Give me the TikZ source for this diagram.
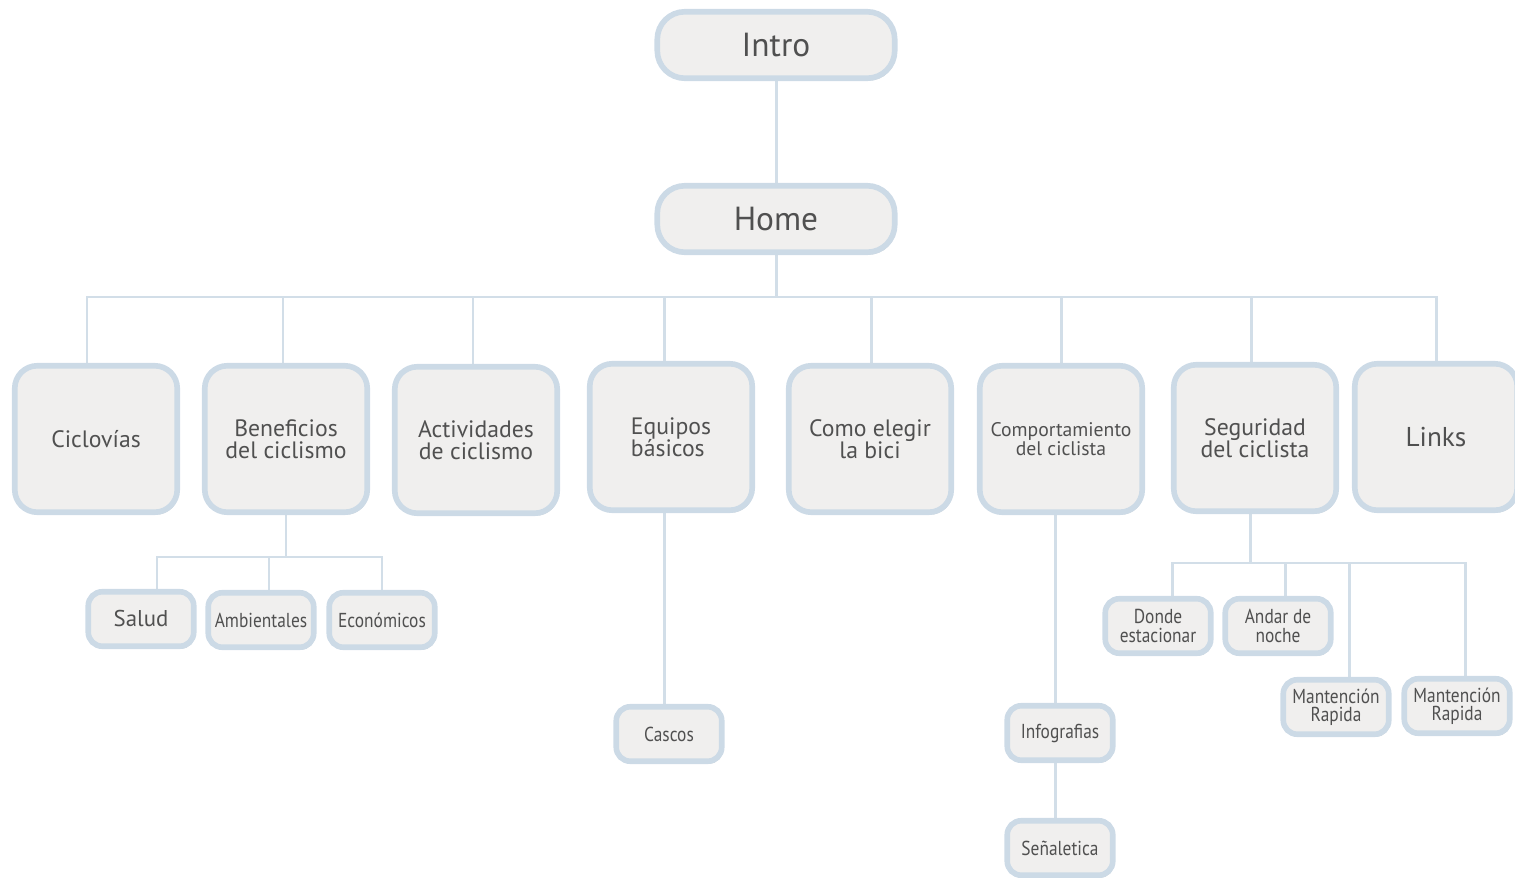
\documentclass[tikz,border=0pt]{standalone}
\usepackage{fontspec}
\setmainfont{PT Sans}
\newfontfamily\narrowfont[FakeStretch=0.86]{PT Sans}
\usetikzlibrary{shadows,backgrounds}
\definecolor{boxfill}{HTML}{F0EFEE}
\definecolor{boxline}{HTML}{CCDAE6}
\definecolor{linkcol}{HTML}{D2DEE8}
\definecolor{txtcol}{HTML}{505050}
\tikzset{
  box/.style={draw=boxline, line width=3.2pt, fill=boxfill, text=txtcol, align=center, inner sep=1pt,
    drop shadow={opacity=0.5, fill=boxline!75!black, shadow xshift=0.8pt, shadow yshift=-1.4pt}},
  topbox/.style={box, minimum width=4.75cm, minimum height=1.33cm, rounded corners=0.55cm,
    font=\fontsize{19}{20}\selectfont},
  secbox/.style={box, minimum width=3.25cm, minimum height=2.93cm, rounded corners=0.45cm,
    font=\fontsize{13.5}{12.5}\selectfont},
  leafbox/.style={box, minimum width=2.11cm, minimum height=1.09cm, rounded corners=0.28cm,
    font=\narrowfont\fontsize{11.5}{10.5}\selectfont},
  link/.style={draw=linkcol, line width=1.7pt}
}
\begin{document}
\begin{tikzpicture}[x=0.02cm, y=-0.02cm]
  \useasboundingbox (0,0) rectangle (1515,878);
  \coordinate (mainbus) at (776,297);
  \coordinate (benefbus) at (286,557);
  \coordinate (segbus) at (1250,563);
  \coordinate (segL) at (1172,563);
  \coordinate (segR) at (1465,563);

  % top
  \node[topbox] (intro) at (776,45) {Intro};
  \node[topbox] (home) at (776,219) {Home};

  % sections
  \node[secbox] (ciclovias) at (96,439) {Ciclovías};
  \node[secbox] (benef) at (286,439) {Beneficios\\del ciclismo};
  \node[secbox] (activ) at (476,440) {Actividades\\de ciclismo};
  \node[secbox, align=left] (equipos) at (671,437) {Equipos\\básicos};
  \node[secbox] (elegir) at (870,439) {Como elegir\\la bici};
  \node[secbox, font=\fontsize{11.2}{10.5}\selectfont] (comport) at (1061,439) {Comportamiento\\del ciclista};
  \node[secbox] (seguridad) at (1255,438) {Seguridad\\del ciclista};
  \node[secbox, font=\fontsize{15.5}{14}\selectfont] (links) at (1436,437) {Links};

  % leaves
  \node[leafbox, font=\fontsize{13}{12}\selectfont] (salud) at (141,619) {Salud};
  \node[leafbox] (ambient) at (261,620) {Ambientales};
  \node[leafbox] (econ) at (382,620) {Económicos};
  \node[leafbox] (cascos) at (669,734) {Cascos};
  \node[leafbox] (infog) at (1060,733) {Infografias};
  \node[leafbox] (senal) at (1060,848) {Señaletica};
  \node[leafbox] (donde) at (1158,626) {Donde\\estacionar};
  \node[leafbox] (andar) at (1278,626) {Andar de\\noche};
  \node[leafbox] (mant1) at (1336,707) {Mantención\\Rapida};
  \node[leafbox] (mant2) at (1457,706) {Mantención\\Rapida};

  % connectors
  \begin{scope}[on background layer]
    \draw[link] (intro) -- (home);
    \draw[link] (home) -- (mainbus);
    \draw[link] (ciclovias.north -| 87,0) |- (links.north |- mainbus) -- (links.north);
    \foreach \n/\xx in {benef/283, activ/473, equipos/664, elegir/871, comport/1061, seguridad/1251}
      \draw[link] (\n.north -| \xx,0) -- (\xx,297);
    % beneficios
    \draw[link] (benef) -- (benefbus);
    \draw[link] (salud.north -| 157,0) |- (econ.north |- benefbus) -- (econ.north);
    \draw[link] (ambient.north -| 269,0) -- (269,557);
    % equipos
    \draw[link] (equipos.south -| 664,0) -- (cascos.north -| 664,0);
    % comportamiento
    \draw[link] (comport.south -| 1055,0) -- (senal.north -| 1055,0);
    % seguridad
    \draw[link] (seguridad.south -| segbus) -- (segbus);
    \draw[link] (donde.north -| segL) -- (segL) -- (segR) -- (mant2.north -| segR);
    \draw[link] (andar.north -| 1285,0) -- (1285,563);
    \draw[link] (mant1.north -| 1349,0) -- (1349,563);
  \end{scope}
\end{tikzpicture}
\end{document}
